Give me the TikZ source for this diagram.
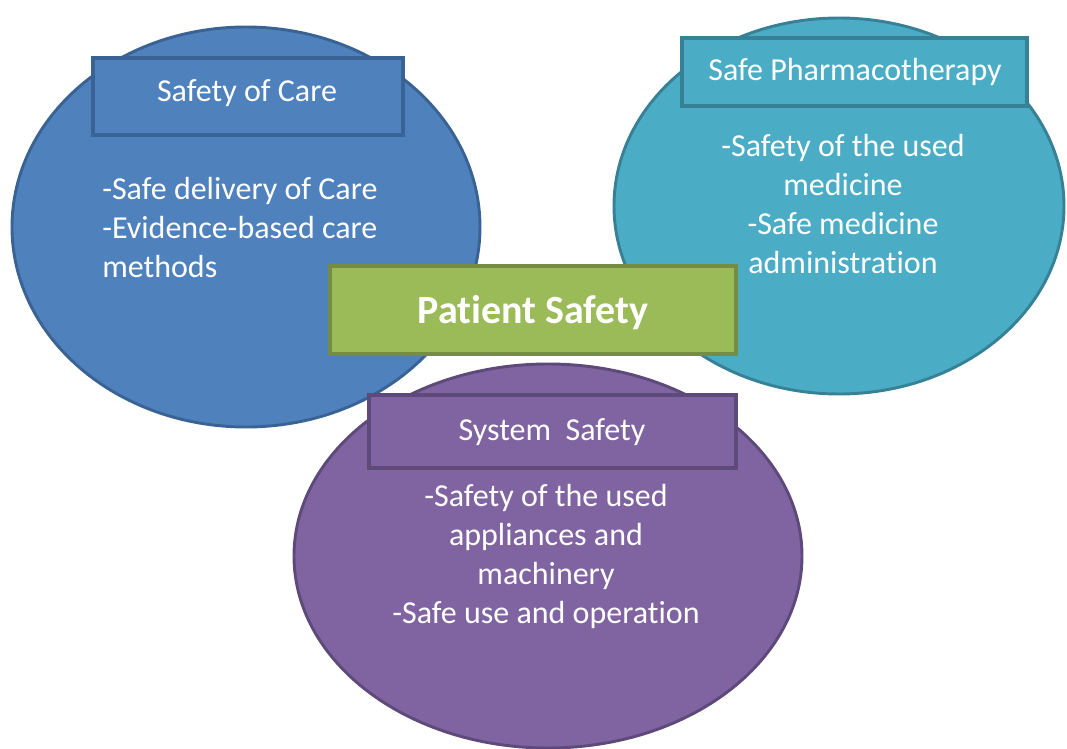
\documentclass[tikz,border=0pt]{standalone}
\usepackage{fontspec}
\setmainfont{Carlito}[Ligatures=NoCommon]
\usetikzlibrary{shapes.geometric}
\definecolor{cblue}{HTML}{4F81BD}
\definecolor{cblueD}{HTML}{3A6395}
\definecolor{cteal}{HTML}{4BACC6}
\definecolor{ctealD}{HTML}{368196}
\definecolor{cpurp}{HTML}{8064A2}
\definecolor{cpurpD}{HTML}{5E4A7A}
\definecolor{cgreen}{HTML}{9BBB59}
\definecolor{cgreenD}{HTML}{748D42}
\tikzset{
  oval/.style={draw=#1D, fill=#1, line width=2.2pt},
  hdr/.style={draw=#1D, fill=#1, line width=3.6pt},
  txt/.style={text=white, font=\fontsize{24}{29.2}\selectfont, inner sep=0pt},
}
\begin{document}
\begin{tikzpicture}[x=0.75pt,y=-0.75pt]
\useasboundingbox (0,0) rectangle (1067,749);
% ellipses
\draw[oval=cblue] (246,227) ellipse [x radius=234, y radius=200];
\draw[oval=cteal] (839,206) ellipse [x radius=225, y radius=188];
\draw[oval=cpurp] (548,556) ellipse [x radius=254, y radius=192];
% header boxes
\draw[hdr=cblue] (93,58) rectangle (403,135);
\draw[hdr=cteal] (682,38) rectangle (1027,106);
\draw[hdr=cpurp] (369,395) rectangle (736,468);
\draw[hdr=cgreen] (330,266) rectangle (736,354);
% header texts
\node[txt, anchor=base] (t1) at (247,101) {Safety of Care};
\node[txt, anchor=base] (t2) at (855,81) {Safe Pharmacotherapy};
\node[txt, anchor=base] (t3) at (552,440) {System~~Safety};
\node[txt, anchor=base, font=\bfseries\fontsize{30}{36}\selectfont] (t4) at (533,323) {Patient Safety};
% body texts (base anchor = last line's baseline)
\node[txt, anchor=base west, align=left] (b1) at (102,277)
  {-Safe delivery of Care\\-Evidence-based care\\methods};
\node[txt, anchor=base, align=center] (b2) at (843,273)
  {-Safety of the used\\medicine\\-Safe medicine\\administration};
\node[txt, anchor=base, align=center] (b3) at (546,623)
  {-Safety of the used\\appliances and\\machinery\\-Safe use and operation};
\end{tikzpicture}
\end{document}
